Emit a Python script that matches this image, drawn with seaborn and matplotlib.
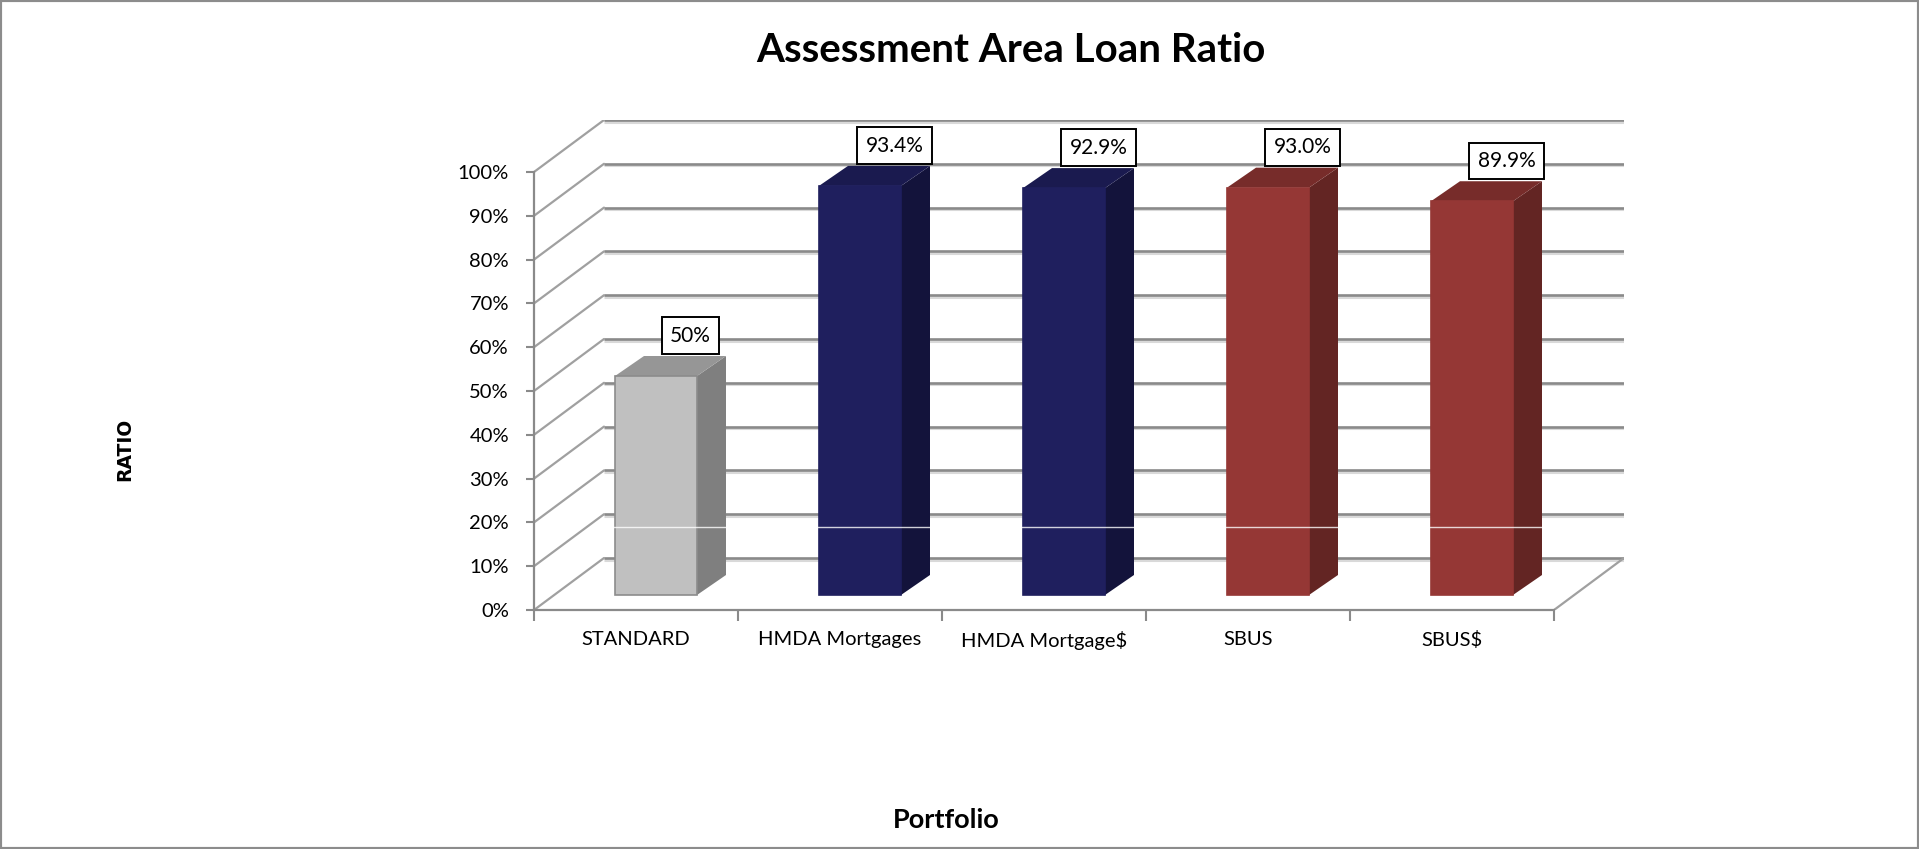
import matplotlib
matplotlib.use("Agg")
import matplotlib.pyplot as plt
from matplotlib.patches import Polygon, Rectangle
import seaborn as sns

# Chart data
categories = ["STANDARD", "HMDA Mortgages", "HMDA Mortgage$", "SBUS", "SBUS$"]
values = [50.0, 93.4, 92.9, 93.0, 89.9]
value_labels = ["50%", "93.4%", "92.9%", "93.0%", "89.9%"]
y_ticks = list(range(0, 101, 10))

front_colors = ["#c0c0c0", "#1f1f5e", "#1f1f5e", "#953735", "#953735"]
side_colors = ["#7f7f7f", "#13133b", "#13133b", "#632523", "#632523"]
top_colors = ["#969696", "#1a1a4f", "#1a1a4f", "#772c2a", "#772c2a"]
edge_colors = ["#8c8c8c", "#1f1f5e", "#1f1f5e", "#953735", "#953735"]

sns.set_theme(style="white")
plt.rcParams["font.family"] = ["Lato", "DejaVu Sans"]
plt.rcParams["text.color"] = "black"
plt.rcParams["xtick.labelcolor"] = "black"
plt.rcParams["ytick.labelcolor"] = "black"

W, H = 1919, 849
PX_CAT = 204.0    # pixels per category
PX_PCT = 4.38     # pixels per percent
BAR0_PX = 656.0   # pixel x of first bar centre
BASE_PX = 595.0   # pixel y of bar baseline

# fake 3d offsets, in data units
FX, FY = -20 / PX_CAT, -15 / PX_PCT       # front plane
DX, DY = 70 / PX_CAT, 52 / PX_PCT         # full depth
BDX, BDY = 29 / PX_CAT, 20 / PX_PCT       # bar depth
BAR_W = 82 / PX_CAT

xlim = (-0.5 + FX, 4.5 + FX + DX)
ylim = (FY, 100 + FY + DY)

px_l = BAR0_PX + xlim[0] * PX_CAT
px_r = BAR0_PX + xlim[1] * PX_CAT
py_b = BASE_PX - ylim[0] * PX_PCT
py_t = BASE_PX - ylim[1] * PX_PCT

fig = plt.figure(figsize=(W / 100, H / 100), dpi=100)
ax = fig.add_axes([px_l / W, 1 - py_b / H, (px_r - px_l) / W, (py_b - py_t) / H])

grid_c = "#8a8a8a"
shadow_c = "#d9d9d9"

# back wall + side wall gridlines
for v in y_ticks:
    yb = v + FY + DY
    ax.plot([-0.5 + FX + DX, 4.5 + FX + DX], [yb - 0.35, yb - 0.35],
            color=shadow_c, lw=2.2, zorder=0.4, solid_capstyle="butt")
    ax.plot([-0.5 + FX + DX, 4.5 + FX + DX], [yb, yb],
            color=grid_c, lw=1.9, zorder=0.5, solid_capstyle="butt")
    ax.plot([-0.5 + FX, -0.5 + FX + DX], [v + FY, yb],
            color="#a0a0a0", lw=1.6, zorder=0.5)
# floor right edge
ax.plot([4.5 + FX, 4.5 + FX + DX], [FY, FY + DY], color="#a0a0a0", lw=1.6, zorder=0.5)

sns.barplot(x=categories, y=values, hue=categories, palette=front_colors,
            width=BAR_W, legend=False, linewidth=0, saturation=1, ax=ax)

for i, (patch, v) in enumerate(zip(ax.patches, values)):
    patch.set_zorder(3)
    patch.set_edgecolor(edge_colors[i])
    patch.set_linewidth(1.2)
    x0 = patch.get_x()
    x1 = x0 + patch.get_width()
    side = Polygon([(x1, 0), (x1 + BDX, BDY), (x1 + BDX, v + BDY), (x1, v)],
                   closed=True, fc=side_colors[i], ec="none", zorder=2.9)
    top = Polygon([(x0, v), (x1, v), (x1 + BDX, v + BDY), (x0 + BDX, v + BDY)],
                  closed=True, fc=top_colors[i], ec="none", zorder=2.9)
    ax.add_patch(side)
    ax.add_patch(top)
    ax.text(i + 0.17, v + 9.2, value_labels[i], ha="center", va="center",
            fontsize=15, color="black", zorder=5,
            bbox=dict(boxstyle="square,pad=0.4", fc="white", ec="black", lw=1.4))

# faint white line across the bars (as in the original rendering)
ax.plot([-0.3, 4.4], [15.5, 15.5], color="white", lw=1, alpha=0.8, zorder=4)

ax.set_xlim(*xlim)
ax.set_ylim(*ylim)

ax.set_yticks([v + FY for v in y_ticks])
ax.set_yticklabels([f"{v}%" for v in y_ticks], fontsize=14.5)
ax.set_xticks([k - 0.5 + FX for k in range(6)])
ax.set_xticklabels([""] * 6)
ax.set_xticks([k + FX for k in range(5)], minor=True)
ax.set_xticklabels(categories, minor=True, fontsize=14.5)
ax.tick_params(axis="y", which="major", left=True, length=6, width=1.5,
               color=grid_c, pad=12)
ax.tick_params(axis="x", which="major", bottom=True, length=8, width=1.5,
               color=grid_c)
ax.tick_params(axis="x", which="minor", bottom=True, length=0, pad=15)

for s in ["top", "right"]:
    ax.spines[s].set_visible(False)
for s in ["left", "bottom"]:
    ax.spines[s].set_color(grid_c)
    ax.spines[s].set_linewidth(1.6)
ax.spines["left"].set_bounds(FY, 100 + FY)
ax.spines["bottom"].set_bounds(-0.5 + FX, 4.5 + FX)
ax.set_xlabel("")
ax.set_ylabel("")
ax.patch.set_alpha(0)

fig.text(1011 / W, 1 - 51 / H, "Assessment Area Loan Ratio", ha="center", va="center",
         fontsize=29, fontweight="bold", color="black")
fig.text(946 / W, 1 - 820 / H, "Portfolio", ha="center", va="center",
         fontsize=19.5, fontweight="bold", color="black")
fig.text(125 / W, 1 - 449 / H, "RATIO", ha="center", va="center", rotation=90,
         fontsize=13.5, fontweight="bold", family=["DejaVu Sans"], color="black")

fig.add_artist(Rectangle((0, 0), 1, 1, transform=fig.transFigure, fill=False,
                         ec="#8c8c8c", lw=3))

fig.savefig("out.png", dpi=100)
plt.close(fig)
